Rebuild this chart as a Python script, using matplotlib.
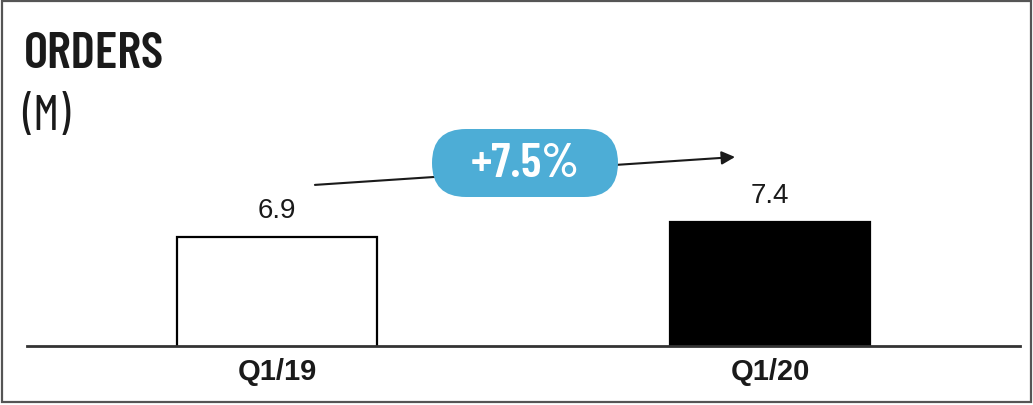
import matplotlib
matplotlib.use("Agg")
import matplotlib.pyplot as plt
from matplotlib.patches import FancyBboxPatch, Rectangle

# ── data ──────────────────────────────────────────────────────────────────────
quarters = ["Q1/19", "Q1/20"]
orders_m = [6.9, 7.4]
growth_label = "+7.5%"

BAR_FACES = ["white", "black"]
PILL_BLUE = "#4DADD6"
INK = "#1A1A1A"
COND = "Barlow Condensed"
SANS = "Liberation Sans"

W, H, DPI = 1033, 406, 100
fig = plt.figure(figsize=(W / DPI, H / DPI), dpi=DPI)
fig.patch.set_facecolor("white")

# plot area: baseline sits 59 px above the bottom edge
ax = fig.add_axes([27 / W, 59 / H, 993 / W, 227 / H])
x = list(range(len(quarters)))
ax.bar(x, orders_m, width=0.404, color=BAR_FACES, edgecolor="black",
       linewidth=1.6, zorder=2)
ax.set_xlim(-0.507, 1.507)
ax.set_ylim(3.27, 3.27 + 227 / 30)

for xi, v in zip(x, orders_m):
    ax.annotate(f"{v}", (xi, v), xytext=(0, 19.5), textcoords="offset points",
                ha="center", va="center", fontsize=20, family=SANS, color=INK)

ax.set_xticks(x, quarters)
ax.tick_params(axis="x", length=0, pad=8)
for lbl in ax.get_xticklabels():
    lbl.set_fontfamily(SANS)
    lbl.set_fontweight("bold")
    lbl.set_fontsize(21)
    lbl.set_color(INK)
ax.set_yticks([])
for side in ("top", "left", "right"):
    ax.spines[side].set_visible(False)
ax.spines["bottom"].set_linewidth(2)
ax.spines["bottom"].set_color("#333333")
ax.set_facecolor("none")

# growth arrow between the two bars
ax.annotate("", xy=(0.929, 9.57), xytext=(0.077, 8.64),
            arrowprops=dict(arrowstyle="-|>", color=INK, lw=1.5,
                            mutation_scale=20, shrinkA=0, shrinkB=0),
            zorder=3, annotation_clip=False)

# rounded badge (in inches so the corners stay circular)
pill = FancyBboxPatch((4.32, 2.08), 1.86, 0.68,
                      boxstyle="round,pad=0,rounding_size=0.34",
                      transform=fig.dpi_scale_trans, facecolor=PILL_BLUE,
                      edgecolor="none", zorder=4)
fig.patches.append(pill)
fig.text(5.25 / (W / DPI), (H - 165) / H, growth_label, ha="center",
         va="center", fontsize=35, fontweight="semibold", family=COND,
         color="white", zorder=5)

# header
fig.text(24 / W, (H - 68) / H, "ORDERS", ha="left", va="baseline",
         fontsize=37, fontweight="semibold", family=COND, color=INK)
fig.text(22 / W, (H - 130) / H, "(M)", ha="left", va="baseline",
         fontsize=36, family=COND, color=INK)

# thin frame around the whole panel
fig.patches.append(Rectangle((2 / W, 3 / H), (W - 4) / W, (H - 5) / H,
                             transform=fig.transFigure, fill=False,
                             edgecolor="#555555", linewidth=1.6))

fig.savefig("out.png", dpi=DPI, facecolor=fig.get_facecolor())
